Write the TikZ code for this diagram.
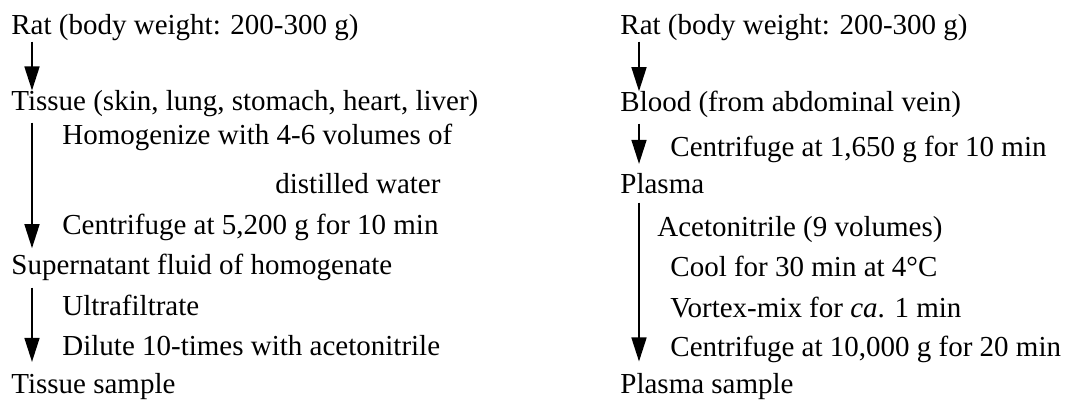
\documentclass[tikz,border=0pt]{standalone}
\usepackage{fontspec}
\setmainfont{Liberation Serif}
\usetikzlibrary{arrows.meta, positioning}

\begin{document}
\begin{tikzpicture}[
    x=0.5pt, y=-0.5pt,
    txt/.style={anchor=base west, inner sep=0pt, font=\fontsize{14.5}{17}\selectfont},
    arr/.style={-{Triangle[length=12pt, width=7.5pt]}, line width=0.8pt, black}
  ]
    \useasboundingbox (0,0) rectangle (1069,400);

    % tissue preparation
    \node[txt] (ratL) at (11,35) {Rat (body weight: 200-300 g)};
    \node[txt] (tissue) at (11,111) {Tissue (skin, lung, stomach, heart, liver)};
    \node[txt] (homog) at (62,145) {Homogenize with 4-6 volumes of};
    \node[txt] (water) at (275,194) {distilled water};
    \node[txt] (centL) at (62,235) {Centrifuge at 5,200 g for 10 min};
    \node[txt] (super) at (11,275) {Supernatant fluid of homogenate};
    \node[txt] (ultra) at (62,315) {Ultrafiltrate};
    \node[txt] (dilute) at (62,355) {Dilute 10-times with acetonitrile};
    \node[txt] (tsample) at (11,393) {Tissue sample};

    \draw[arr] ([xshift=10.5pt]ratL.south west) -- ([xshift=10.5pt]tissue.north west);
    \draw[arr, shorten <=2.5pt, shorten >=3pt] ([xshift=10.5pt]tissue.south west) -- ([xshift=10.5pt]super.north west);
    \draw[arr, shorten <=3pt, shorten >=5.3pt] ([xshift=10.5pt]super.south west) -- ([xshift=10.5pt]tsample.north west);

    % plasma preparation
    \node[txt] (ratR) at (620,35) {Rat (body weight: 200-300 g)};
    \node[txt] (blood) at (620,112) {Blood (from abdominal vein)};
    \node[txt] (centR) at (670,157) {Centrifuge at 1,650 g for 10 min};
    \node[txt] (plasma) at (620,194) {Plasma};
    \node[txt] (aceto) at (657,237) {Acetonitrile (9 volumes)};
    \node[txt] (cool) at (670,277) {Cool for 30 min at 4°C};
    \node[txt] (vortex) at (670,317) {Vortex-mix for \textit{ca}. 1 min};
    \node[txt] (centR2) at (670,357) {Centrifuge at 10,000 g for 20 min};
    \node[txt] (psample) at (620,393) {Plasma sample};

    \draw[arr] ([xshift=9.5pt]ratR.south west) -- ([xshift=9.5pt]blood.north west);
    \draw[arr, shorten <=2.5pt, shorten >=4.8pt] ([xshift=9.5pt]blood.south west) -- ([xshift=9.5pt]plasma.north west);
    \draw[arr, shorten <=4pt, shorten >=5.5pt] ([xshift=9.5pt]plasma.south west) -- ([xshift=9.5pt]psample.north west);
\end{tikzpicture}
\end{document}
